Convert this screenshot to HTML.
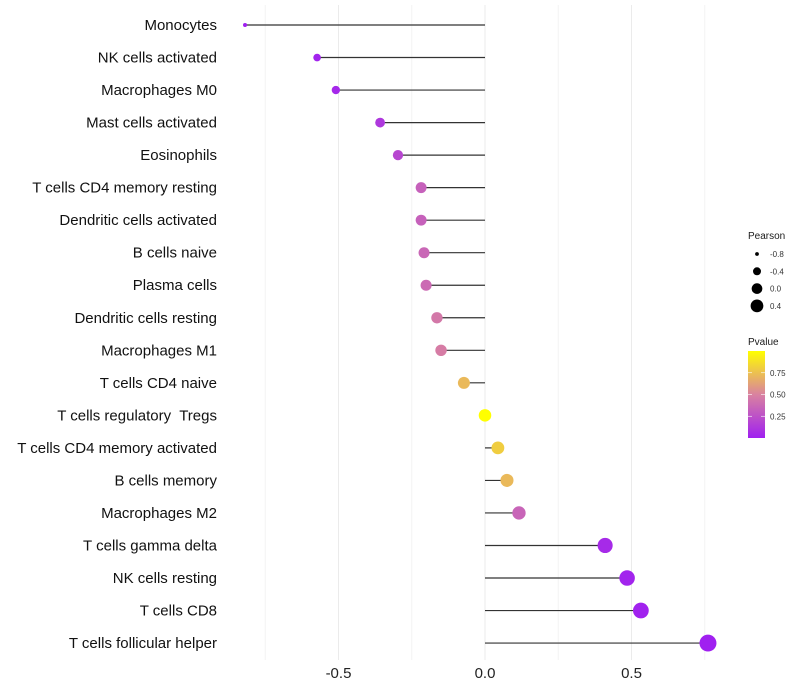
<!DOCTYPE html>
<html><head><meta charset="utf-8"><style>
body{margin:0;background:#fff;font-family:"Liberation Sans",sans-serif}
text{white-space:pre}
</style></head><body>
<svg id="c" width="800" height="700" style="position:absolute;left:0;top:0">
<defs><linearGradient id="pg" x1="0" y1="1" x2="0" y2="0">
<stop offset="0" stop-color="#a020f0"/><stop offset="0.5" stop-color="#d982a0"/><stop offset="1" stop-color="#ffff00"/></linearGradient></defs>
</svg>
<script>
const categories=["Monocytes","NK cells activated","Macrophages M0","Mast cells activated","Eosinophils","T cells CD4 memory resting","Dendritic cells activated","B cells naive","Plasma cells","Dendritic cells resting","Macrophages M1","T cells CD4 naive","T cells regulatory  Tregs","T cells CD4 memory activated","B cells memory","Macrophages M2","T cells gamma delta","NK cells resting","T cells CD8","T cells follicular helper"];
const pearson=[-0.819,-0.573,-0.509,-0.358,-0.297,-0.218,-0.218,-0.208,-0.201,-0.164,-0.150,-0.072,0.0,0.044,0.075,0.116,0.41,0.485,0.532,0.761];
const pvalues=[0.0,0.02,0.04,0.12,0.2,0.33,0.33,0.36,0.38,0.45,0.47,0.72,1.0,0.8,0.72,0.35,0.05,0.02,0.01,0.001];
const xTicks=[-0.5,0.0,0.5];
const xTickLabels=["-0.5","0.0","0.5"];
const NS="http://www.w3.org/2000/svg",svg=document.getElementById('c');
const x=v=>485+v*293, y=i=>25+i*32.53;
const rad=v=>Math.sqrt(Math.max(2,39.3+43*v));
function col(p){const s=[[160,32,240],[217,130,160],[255,255,0]];let a,b,t;if(p<0.5){a=s[0];b=s[1];t=p/0.5}else{a=s[1];b=s[2];t=(p-0.5)/0.5}return`rgb(${a.map((c,k)=>Math.round(c+(b[k]-c)*t)).join(',')})`}
function el(t,at,txt){const e=document.createElementNS(NS,t);for(const k in at)e.setAttribute(k,at[k]);if(txt!=null)e.textContent=txt;svg.appendChild(e);return e}
[-0.75,-0.25,0.25,0.75].forEach(v=>{const g=el('line',{x1:x(v),x2:x(v),y1:5,y2:660,stroke:'#f4f4f4','stroke-width':1});

});
xTicks.forEach((v,i)=>{const g=el('line',{x1:x(v),x2:x(v),y1:5,y2:660,stroke:'#ebebeb','stroke-width':1});


const t=el('text',{x:x(v),y:678,'text-anchor':'middle','font-size':15,fill:'#222'},xTickLabels[i]);

});
categories.forEach((c,i)=>{
const t=el('text',{x:217,y:y(i)+5,'text-anchor':'end','font-size':15,fill:'#111'},c);


const l=el('line',{x1:x(0),x2:x(pearson[i]),y1:y(i),y2:y(i),stroke:'#333','stroke-width':1.2});


const d=el('circle',{cx:x(pearson[i]),cy:y(i),r:rad(pearson[i]),fill:col(pvalues[i])});


});
let t=el('text',{x:748,y:239,'font-size':10,fill:'#1a1a1a'},'Pearson');


[-0.8,-0.4,0.0,0.4].forEach((v,i)=>{const yy=254+i*17.3;
const d=el('circle',{cx:757,cy:yy,r:rad(v)*0.85,fill:'#000'});


const tt=el('text',{x:770,y:yy+3,'font-size':8,fill:'#333'},v.toFixed(1));

});
t=el('text',{x:748,y:345,'font-size':10,fill:'#1a1a1a'},'Pvalue');


const r=el('rect',{x:748,y:351,width:17,height:87,fill:'url(#pg)'});


[0.25,0.5,0.75].forEach(v=>{const yy=438-v*87;
el('line',{x1:748,x2:752,y1:yy,y2:yy,stroke:'#fff','stroke-width':0.6});
el('line',{x1:761,x2:765,y1:yy,y2:yy,stroke:'#fff','stroke-width':0.6});
const tt=el('text',{x:770,y:yy+3,'font-size':8,fill:'#333'},v.toFixed(2));

});
</script>
</body></html>
